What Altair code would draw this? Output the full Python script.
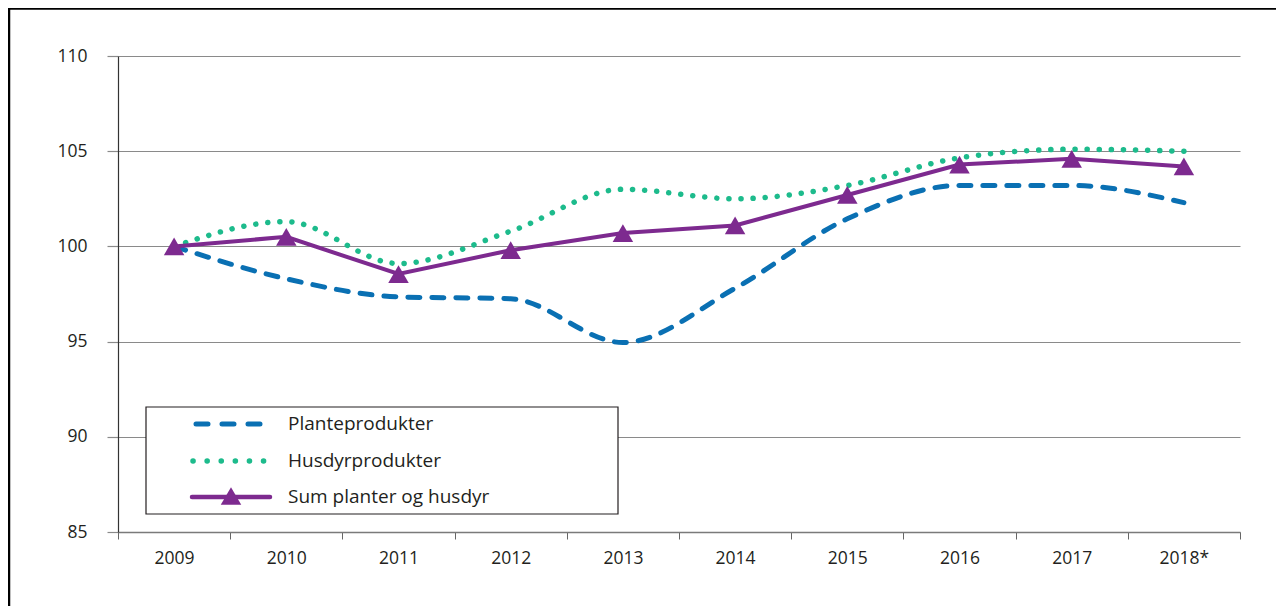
import altair as alt
import pandas as pd

years = ["2009", "2010", "2011", "2012", "2013", "2014", "2015", "2016", "2017", "2018*"]
plante = [100.0, 98.3, 97.35, 97.25, 94.95, 97.8, 101.45, 103.2, 103.2, 102.3]
husdyr = [100.0, 101.3, 99.1, 100.8, 103.0, 102.5, 103.2, 104.65, 105.1, 105.0]
sum_ph = [100.0, 100.5, 98.55, 99.8, 100.7, 101.1, 102.7, 104.3, 104.6, 104.2]
y_ticks = [85, 90, 95, 100, 105, 110]

names = ["Planteprodukter", "Husdyrprodukter", "Sum planter og husdyr"]
BLUE = "#0a70b3"
GREEN = "#1dbb8c"
PURPLE = "#7d2a8f"
FONT = "Open Sans"

df = pd.DataFrame({"year": years, "Plante": plante, "Husdyr": husdyr, "Sum": sum_ph})

W, H = 1122, 476

x_enc = alt.X(
    "year:N", sort=years, title=None,
    scale=alt.Scale(paddingInner=0, paddingOuter=0),
    axis=alt.Axis(labelAngle=0, tickBand="extent", tickSize=7, tickColor="#666666",
                  domainColor="#7a7a7a", domainWidth=1.5, labelFontSize=17.5, labelFont=FONT,
                  labelColor="#231f20", labelPadding=10, grid=False),
)
y_scale = alt.Scale(domain=[85, 110], nice=False, zero=False)
y_axis = alt.Axis(values=y_ticks, grid=True, gridColor="#8a8a8a", gridWidth=1.2,
                  tickSize=11, tickColor="#8a8a8a", tickWidth=1.2,
                  domainColor="#333333", domainWidth=1.2, labelFontSize=17.5, labelFont=FONT,
                  labelColor="#231f20", labelPadding=20, title=None)

base = alt.Chart(df)

plante_line = base.mark_line(interpolate="monotone", color=BLUE, strokeWidth=5,
                             strokeDash=[12, 12], strokeCap="round").encode(
    x=x_enc, y=alt.Y("Plante:Q", scale=y_scale, axis=y_axis))
husdyr_line = base.mark_line(interpolate="monotone", color=GREEN, strokeWidth=5.5,
                             strokeDash=[0.1, 12], strokeCap="round").encode(
    x=x_enc, y=alt.Y("Husdyr:Q", scale=y_scale))
sum_line = base.mark_line(color=PURPLE, strokeWidth=4).encode(
    x=x_enc, y=alt.Y("Sum:Q", scale=y_scale))
sum_pts = base.mark_point(shape="triangle-up", filled=True, size=420, color=PURPLE,
                          opacity=1).encode(x=x_enc, y=alt.Y("Sum:Q", scale=y_scale))

# outer frame (left and top visible)
frame = alt.Chart(pd.DataFrame({"a": [0]})).mark_rect(
    fill=None, stroke="black", strokeWidth=2.5).encode(
    x=alt.value(-109), x2=alt.value(1300), y=alt.value(-47.5), y2=alt.value(640))

# legend box
lg = alt.Chart(pd.DataFrame({"a": [0]}))
legend_box = lg.mark_rect(fill="white", stroke="#231f20", strokeWidth=1.2).encode(
    x=alt.value(28), x2=alt.value(500), y=alt.value(351), y2=alt.value(458))
leg_y = [368, 405, 441]
leg_dash = lg.mark_rule(color=BLUE, strokeWidth=5, strokeDash=[12, 14], strokeCap="round").encode(
    x=alt.value(78), x2=alt.value(150), y=alt.value(leg_y[0]))
leg_dot = lg.mark_rule(color=GREEN, strokeWidth=5.5, strokeDash=[0.1, 14], strokeCap="round").encode(
    x=alt.value(75), x2=alt.value(150), y=alt.value(leg_y[1]))
leg_sum = lg.mark_rule(color=PURPLE, strokeWidth=4.5, strokeCap="round").encode(
    x=alt.value(74), x2=alt.value(152), y=alt.value(leg_y[2]))
leg_tri = lg.mark_point(shape="triangle-up", filled=True, size=420, color=PURPLE, opacity=1).encode(
    x=alt.value(113), y=alt.value(leg_y[2] - 1))
leg_texts = [
    lg.mark_text(align="left", baseline="middle", font=FONT, fontSize=19, color="#231f20").encode(
        x=alt.value(170), y=alt.value(yy), text=alt.value(nm))
    for yy, nm in zip(leg_y, names)
]

chart = alt.layer(
    frame, plante_line, husdyr_line, sum_line, sum_pts,
    legend_box, leg_dash, leg_dot, leg_sum, leg_tri, *leg_texts
).properties(
    width=W, height=H,
    autosize=alt.AutoSizeParams(type="none"),
    padding={"left": 110, "top": 48, "right": 36, "bottom": 82},
).configure_view(stroke=None)

chart.save("out.html", embed_options={"renderer": "svg", "actions": False})
